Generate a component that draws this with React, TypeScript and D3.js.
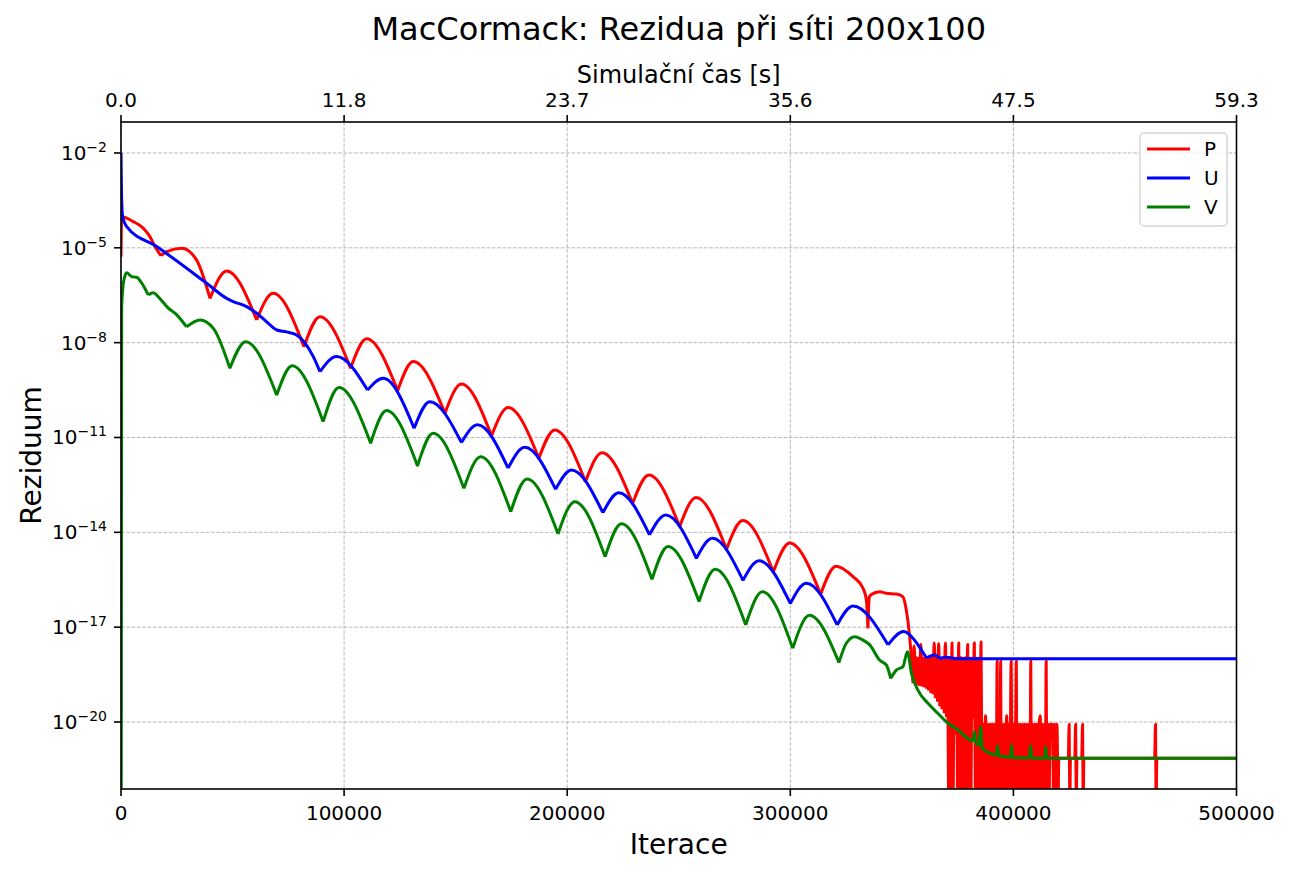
import { useEffect, useRef } from "react";
import * as d3 from "d3";

// [iteration, log10(residual)]; null = residual exactly 0 (clipped on log axis).
// Values of -23 lie below the visible axis range (drawn down to the bottom spine).
type Pt = [number, number | null];

const pResiduals: Pt[] = [
  [0, -5.28], [300, -4.02], [5500, -4.17], [10000, -4.38], [13000, -4.65], [15200, -4.96],
  [17900, -5.25], [20500, -5.12], [27200, -5.01], [33900, -5.39], [39900, -6.6], [47400, -5.73],
  [60800, -7.28], [68200, -6.44], [82000, -8.13], [89200, -7.18], [102900, -8.81], [110100, -7.88],
  [124000, -9.52], [131000, -8.6], [145200, -10.23], [152600, -9.31], [166100, -10.95], [173500, -10.05],
  [187300, -11.66], [194400, -10.76], [208200, -12.4], [215600, -11.48], [229300, -13.09], [236600, -12.19],
  [250400, -13.82], [257800, -12.9], [271400, -14.54], [278700, -13.63], [292400, -15.25], [299700, -14.34],
  [313600, -15.96], [320500, -15.07], [328100, -15.4], [332600, -15.77], [334100, -16.14], [334800, -17.04],
  [335400, -16.05], [336300, -15.97], [340100, -15.88], [343100, -15.93], [347500, -15.95], [350500, -16.04],
  [352000, -16.46], [353500, -17.3], [355000, -18.77],
  // noisy stage, upper band
  [355500, -17.6], [356000, -18.8], [356500, -17.97], [357000, -18.84], [357500, -17.98], [358000, -18.86],
  [358500, -17.55], [359000, -18.88], [359500, -17.98], [360000, -18.9], [360500, -17.98], [361000, -18.95],
  [361500, -17.97], [362000, -19.0], [362500, -17.98], [363000, -19.08], [363500, -17.97], [364000, -19.12],
  [364500, -17.5], [365000, -19.25], [365500, -17.98], [366000, -19.36], [366500, -17.52], [367000, -19.5],
  [367500, -17.98], [368000, -19.6], [368500, -17.97], [369000, -19.72], [369500, -17.5], [370000, -19.85],
  [370500, -17.98], [371000, -23], [371500, -17.98], [372000, -23], [372500, -17.5], [373000, -23],
  [373500, -17.98], [374000, -20.4], [374500, -17.98], [375000, -23], [375500, -17.5], [376000, -23],
  [376500, -17.97], [377000, -23], [377500, -17.98], [378000, -23], [378500, -17.97], [379000, -23],
  [379500, -17.55], [380000, -23], [380500, -17.98], [381000, -23], [381500, -17.98], [382000, -19.9],
  [382500, -17.5], [383000, -23], [383500, -17.98], [384000, -23], [384500, -17.98], [385000, -23],
  [385500, -17.47], [386000, -23],
  // noisy stage, lower band
  [386500, -20.07], [387000, -23], [387500, -19.8], [388000, -23], [388500, -20.07], [389000, -23],
  [389500, -20.07], [390000, -23], [390500, -20.07], [391000, -23], [391500, -20.07], [392000, -23],
  [392500, -20.07], [392700, -18.08], [393000, -23], [393500, -20.07], [394000, -23], [394300, -18.08],
  [394600, -23], [395000, -20.07], [395500, -23], [396000, -20.07], [396500, -23], [397000, -19.8],
  [397500, -23], [398000, -20.07], [398500, -23], [399000, -18.08], [399500, -23], [400000, -20.07],
  [400500, -23], [401000, -20.07], [401300, -18.08], [401600, -23], [402000, -20.07], [402500, -23],
  [403000, -20.07], [403500, -23], [404000, -20.07], [404500, -23], [405000, -20.07], [405500, -23],
  [406000, -20.07], [406500, -23], [407000, -20.07], [407500, -23], [407800, -18.08], [408100, -23],
  [408500, -20.07], [409000, -23], [409500, -20.07], [410000, -23], [410500, -20.07], [411000, -23],
  [411500, -20.07], [412000, -19.8], [412500, -23], [413000, -20.07], [413500, -23], [414000, -20.07],
  [414400, -23], [414700, -18.08], [415000, -23], [415500, -20.07], [416000, -23], [416500, -20.07],
  [417000, -20.07], [417500, -20.07], [418000, -23], [418500, -20.07], [419000, -23], [419500, -20.07],
  [420000, -23], [420400, -21.15],
  [424600, -21.15], [425000, -20.07], [425300, -23], [425600, -21.15],
  [427500, -21.15], [427900, -20.07], [428200, -23], [428500, -21.15],
  [430600, -21.15], [431000, -20.07], [431300, -23], [431600, -21.15],
  [463300, -21.15], [463700, -20.07], [464000, -23], [464300, -21.15],
  [500000, -21.15],
];

const uResiduals: Pt[] = [
  [0, -2.0], [150, -2.85], [300, -3.49], [750, -4.02], [2550, -4.33], [16000, -4.96], [38400, -6.12],
  [47400, -6.6], [50300, -6.7], [56300, -6.86], [60800, -7.07], [65300, -7.34], [69800, -7.6],
  [74200, -7.66], [78700, -7.76], [82000, -7.97], [86200, -8.44], [89200, -8.92], [96600, -8.44],
  [110500, -9.5], [117500, -9.13], [131400, -10.71], [138400, -9.87], [152600, -11.16], [159800, -10.6],
  [173500, -11.97], [181000, -11.31], [194800, -12.64], [201900, -12.03], [216000, -13.38], [223100, -12.75],
  [236900, -14.08], [244200, -13.45], [257900, -14.82], [265100, -14.19], [278800, -15.52], [286000, -14.9],
  [300000, -16.25], [307200, -15.61], [321000, -16.93], [328100, -16.33], [343800, -17.56], [350800, -17.14],
  [355700, -17.41], [358700, -17.72], [361000, -17.97], [364700, -17.88], [366900, -17.99], [370000, -17.95],
  [374000, -18.0], [500000, -18.0],
];

const vResiduals: Pt[] = [
  [0, null], [300, -6.86], [1300, -6.02], [2550, -5.79], [4800, -5.91], [7000, -5.93], [9300, -6.12],
  [12200, -6.49], [14500, -6.42], [16700, -6.55], [21200, -6.91], [25000, -7.12], [29400, -7.5],
  [35400, -7.28], [41400, -7.55], [48800, -8.81], [55900, -7.97], [69800, -9.66], [76700, -8.73],
  [90600, -10.5], [97700, -9.42], [111900, -11.18], [119000, -10.15], [132900, -11.9], [139900, -10.87],
  [153700, -12.61], [161200, -11.61], [174700, -13.35], [182000, -12.31], [195900, -14.05], [203400, -13.03],
  [217000, -14.77], [224300, -13.73], [238000, -15.49], [245200, -14.45], [259100, -16.19], [266300, -15.17],
  [280000, -16.93], [287500, -15.88], [301100, -17.67], [308600, -16.62], [321800, -18.12], [325100, -17.51],
  [328900, -17.3], [332600, -17.41], [335600, -17.56], [340000, -18.04], [343100, -18.2], [345000, -18.62],
  [347500, -18.36], [350500, -18.25], [352500, -17.78], [354300, -18.46], [357200, -18.99], [361700, -19.41],
  [366200, -19.73], [370700, -20.04], [375100, -20.25], [379600, -20.52], [382000, -20.62], [382600, -20.31],
  [383200, -20.66], [384700, -20.75], [385300, -20.15], [385900, -20.8], [387100, -20.89], [391600, -21.04],
  [392500, -21.06], [392900, -20.75], [393300, -21.07], [396100, -21.1], [398800, -21.12], [399200, -20.73],
  [399600, -21.13], [406400, -21.14], [407300, -21.15], [407700, -20.75], [408100, -21.15], [414000, -21.15],
  [414400, -20.78], [414800, -21.15], [500000, -21.15],
];

const seriesNames = ["P", "U", "V"];
const seriesColors = ["red", "blue", "green"];
const iterTicks = [0, 100000, 200000, 300000, 400000, 500000];
const timeTickLabels = ["0.0", "11.8", "23.7", "35.6", "47.5", "59.3"];
const yTickExps = [-2, -5, -8, -11, -14, -17, -20];

const FONT = "DejaVu Sans, sans-serif";

// cut a series at its local minima so each arch gets sharp cusps
const splitAtMinima = (pts: [number, number][]) => {
  const out: [number, number][][] = [];
  let cur: [number, number][] = [pts[0]];
  for (let i = 1; i < pts.length; i++) {
    cur.push(pts[i]);
    if (i < pts.length - 1 && pts[i][1] < pts[i - 1][1] && pts[i][1] <= pts[i + 1][1]) {
      out.push(cur);
      cur = [pts[i]];
    }
  }
  out.push(cur);
  return out;
};

const App = () => {
  const svgRef = useRef<SVGSVGElement | null>(null);

  useEffect(() => {
    const width = 1289;
    const height = 872;
    const left = 121;
    const right = 1236.5;
    const top = 122;
    const bottom = 789;

    const svg = d3.select(svgRef.current).attr("width", width).attr("height", height);
    svg.selectAll("*").remove();

    const x = d3.scaleLinear().domain([0, 500000]).range([left, right]);
    const y = d3.scaleLog().domain([10 ** -22.12, 10 ** -1.02]).range([bottom, top]);

    svg.append("rect").attr("width", width).attr("height", height).attr("fill", "white");

    svg
      .append("clipPath")
      .attr("id", "plot-clip")
      .append("rect")
      .attr("x", left)
      .attr("y", top)
      .attr("width", right - left)
      .attr("height", bottom - top);

    // grid
    const grid = svg.append("g").attr("stroke", "#b0b0b0").attr("stroke-width", 0.9).attr("stroke-dasharray", "3.7,1.6");
    iterTicks.forEach((t) => {
      grid.append("line").attr("x1", x(t)).attr("x2", x(t)).attr("y1", top).attr("y2", bottom);
    });
    yTickExps.forEach((e) => {
      grid.append("line").attr("x1", left).attr("x2", right).attr("y1", y(10 ** e)).attr("y2", y(10 ** e));
    });

    // series
    const lines = svg.append("g").attr("clip-path", "url(#plot-clip)");
    const line = d3
      .line<[number, number]>()
      .x((d) => x(d[0]))
      .y((d) => y(10 ** d[1]))
      .curve(d3.curveMonotoneX);

    [pResiduals, uResiduals, vResiduals].forEach((data, i) => {
      const pts = data.map((d) => [d[0], d[1] ?? -30] as [number, number]);
      const path = splitAtMinima(pts).map((seg) => line(seg)).join("");
      lines
        .append("path")
        .attr("d", path)
        .attr("fill", "none")
        .attr("stroke", seriesColors[i])
        .attr("stroke-width", 3)
        .attr("stroke-linejoin", "round");
    });

    // spines
    svg
      .append("rect")
      .attr("x", left)
      .attr("y", top)
      .attr("width", right - left)
      .attr("height", bottom - top)
      .attr("fill", "none")
      .attr("stroke", "black")
      .attr("stroke-width", 1.6);

    // bottom axis
    const axB = svg.append("g");
    iterTicks.forEach((t) => {
      axB.append("line").attr("x1", x(t)).attr("x2", x(t)).attr("y1", bottom).attr("y2", bottom + 7).attr("stroke", "black").attr("stroke-width", 1.6);
      axB
        .append("text")
        .attr("x", x(t))
        .attr("y", 820)
        .attr("text-anchor", "middle")
        .attr("font-family", FONT)
        .attr("font-size", 20)
        .text(String(t));
    });

    // top axis (simulation time)
    const axT = svg.append("g");
    iterTicks.forEach((t, i) => {
      axT.append("line").attr("x1", x(t)).attr("x2", x(t)).attr("y1", top).attr("y2", top - 7).attr("stroke", "black").attr("stroke-width", 1.6);
      axT
        .append("text")
        .attr("x", x(t))
        .attr("y", 107)
        .attr("text-anchor", "middle")
        .attr("font-family", FONT)
        .attr("font-size", 20)
        .text(timeTickLabels[i]);
    });

    // left axis
    const axL = svg.append("g");
    yTickExps.forEach((e) => {
      const yy = y(10 ** e);
      axL.append("line").attr("x1", left).attr("x2", left - 7).attr("y1", yy).attr("y2", yy).attr("stroke", "black").attr("stroke-width", 1.6);
      const txt = axL
        .append("text")
        .attr("x", 107)
        .attr("y", yy + 7)
        .attr("text-anchor", "end")
        .attr("font-family", FONT)
        .attr("font-size", 20);
      txt.append("tspan").text("10");
      txt.append("tspan").attr("dy", -8).attr("font-size", 14).text(`\u2212${Math.abs(e)}`);
    });

    // labels
    const cx = (left + right) / 2;
    svg.append("text").attr("x", cx).attr("y", 40).attr("text-anchor", "middle").attr("font-family", FONT).attr("font-size", 32).text("MacCormack: Rezidua při síti 200x100");
    svg.append("text").attr("x", cx).attr("y", 83).attr("text-anchor", "middle").attr("font-family", FONT).attr("font-size", 24).text("Simulační čas [s]");
    svg.append("text").attr("x", cx).attr("y", 854).attr("text-anchor", "middle").attr("font-family", FONT).attr("font-size", 28).text("Iterace");
    svg
      .append("text")
      .attr("transform", `translate(41, ${(top + bottom) / 2}) rotate(-90)`)
      .attr("text-anchor", "middle")
      .attr("font-family", FONT)
      .attr("font-size", 28)
      .text("Reziduum");

    // legend
    const legend = svg.append("g").attr("transform", "translate(1140, 133)");
    legend.append("rect").attr("width", 87).attr("height", 93).attr("rx", 4).attr("fill", "white").attr("fill-opacity", 0.8).attr("stroke", "#d6d6d6").attr("stroke-width", 1.5);
    seriesNames.forEach((name, i) => {
      const g = legend.append("g").attr("transform", `translate(0, ${16 + i * 29})`);
      g.append("line").attr("x1", 7).attr("x2", 50).attr("stroke", seriesColors[i]).attr("stroke-width", 3);
      g.append("text").attr("x", 64).attr("y", 7).attr("font-family", FONT).attr("font-size", 20).text(name);
    });
  }, []);

  return (
    <div style={{ position: "absolute", left: 0, top: 0 }}>
      <svg ref={svgRef} style={{ display: "block" }} />
    </div>
  );
};

export default App;
